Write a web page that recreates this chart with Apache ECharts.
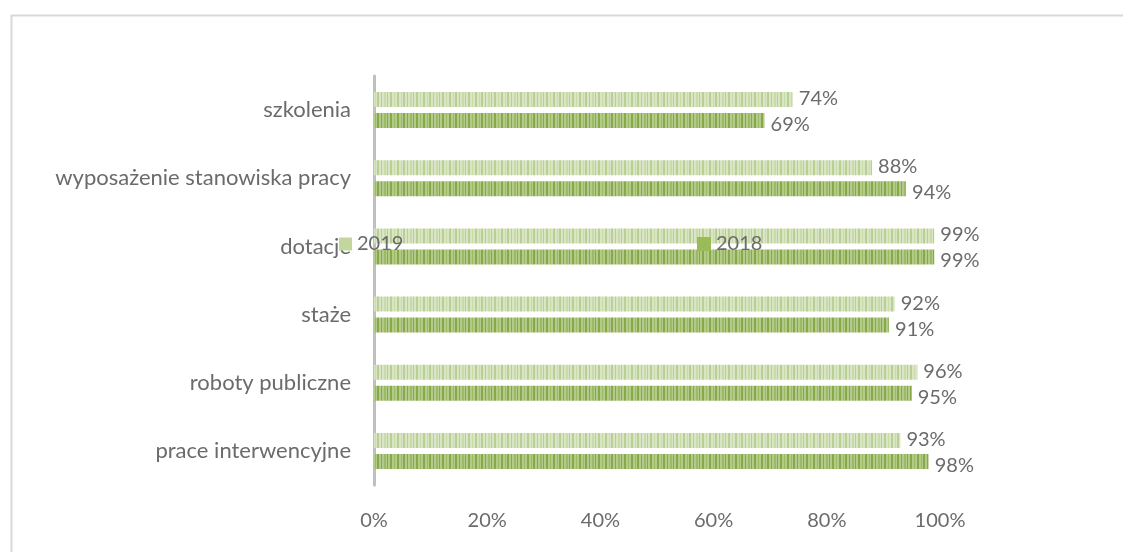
<!DOCTYPE html>
<html>
<head>
<meta charset="utf-8">
<script src="https://cdn.jsdelivr.net/npm/echarts@6/dist/echarts.min.js"></script>
<style>
html,body{margin:0;padding:0;background:#fff;}
#chart{width:1123px;height:552px;}
</style>
</head>
<body>
<div id="chart"></div>
<script>
const categories = ['prace interwencyjne','roboty publiczne','staże','dotacje','wyposażenie stanowiska pracy','szkolenia'];
const values2019 = [93, 96, 92, 99, 88, 74];
const values2018 = [98, 95, 91, 99, 94, 69];
const xTicks = [0, 20, 40, 60, 80, 100];

function stripes(base, darkA, darkB) {
  const c = document.createElement('canvas');
  c.width = 26; c.height = 4;
  const g = c.getContext('2d');
  g.fillStyle = base; g.fillRect(0, 0, 26, 4);
  const marks = [[0,2,darkA],[4,1,darkB],[7,2,darkA],[11,1,darkB],[13,2,darkA],[17,1,darkA],[20,2,darkB],[23,1,darkA]];
  marks.forEach(m => { g.fillStyle = m[2]; g.fillRect(m[0], 0, m[1], 4); });
  return c;
}
const light = stripes('#d9e5c4', '#b9d093', '#c8dba8');
const dark = stripes('#b3ca8b', '#86aa48', '#9cba63');

const textColor = '#6b6b6b';
const font = 'Lato';
const fs = 20;
const chart = echarts.init(document.getElementById('chart'));
chart.setOption({
  animation: false,
  textStyle: {fontFamily: font},
  graphic: [{
    type: 'rect', left: 9, top: 13, shape: {width: 1130, height: 560},
    style: {fill: 'none', stroke: '#d9d9d9', lineWidth: 2}, silent: true
  }],
  grid: {left: 374, right: 183, top: 76, bottom: 67, containLabel: false, outerBoundsMode: 'none'},
  legend: [
    {left: 334, top: 229, itemWidth: 13, itemHeight: 13, itemGap: 4,
     textStyle: {color: textColor, fontSize: fs, fontFamily: font},
     data: [{name: '2019', icon: 'rect', itemStyle: {color: '#c3d69b'}}]},
    {left: 692, top: 229, itemWidth: 14, itemHeight: 14, itemGap: 4,
     textStyle: {color: textColor, fontSize: fs, fontFamily: font},
     data: [{name: '2018', icon: 'rect', itemStyle: {color: '#9bbb59'}}]}
  ],
  xAxis: {
    type: 'value', min: 0, max: 100, interval: 20,
    splitLine: {show: false}, axisLine: {show: false}, axisTick: {show: false},
    axisLabel: {color: textColor, fontSize: fs, margin: 26,
      formatter: v => xTicks.includes(v) ? v + '%' : ''}
  },
  yAxis: {
    type: 'category', data: categories,
    axisLine: {lineStyle: {color: '#bfbfbf', width: 3}},
    axisTick: {show: false},
    axisLabel: {color: textColor, fontSize: 22, margin: 23}
  },
  series: [
    {name: '2019', type: 'bar', data: values2019, barWidth: 15, barGap: '40%',
     itemStyle: {color: {image: light, repeat: 'repeat'}},
     label: {show: true, position: 'right', distance: 6, offset: [0, -1], color: textColor, fontSize: fs, formatter: '{c}%'}},
    {name: '2018', type: 'bar', data: values2018, barWidth: 15, barGap: '40%',
     itemStyle: {color: {image: dark, repeat: 'repeat'}},
     label: {show: true, position: 'right', distance: 6, offset: [0, 4], color: textColor, fontSize: fs, formatter: '{c}%'}}
  ]
});
</script>
</body>
</html>
